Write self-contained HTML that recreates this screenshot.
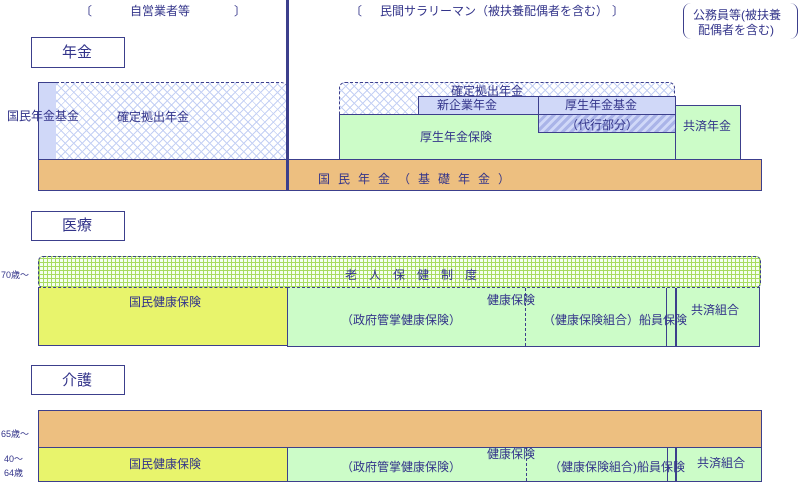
<!DOCTYPE html>
<html><head><meta charset="utf-8"><style>
body{margin:0;width:800px;height:485px;background:#fff;position:relative;overflow:hidden;font-family:"Liberation Sans","Noto Sans CJK JP",sans-serif;color:#33348a;font-size:12px}
div{position:absolute;box-sizing:border-box}
.t{white-space:nowrap;line-height:14px}
.bx{border:1.5px solid #3c3f8c}
.or{background:#edbf80}
.gr{background:#ccfcc8}
.ye{background:#e8f46c}
.bl{background:#d0d8f8}
.hx{background-color:#fff;background-image:repeating-linear-gradient(45deg,#c4d0f4 0 1px,transparent 1px 6px),repeating-linear-gradient(-45deg,#c4d0f4 0 1px,transparent 1px 6px)}
.hd{background:repeating-linear-gradient(-45deg,#aab4e8 0 3px,#d0d8f8 3px 6px)}
.gg{background-color:#f4fff0;background-image:repeating-linear-gradient(0deg,#a8dc60 0 1px,transparent 1px 4px),repeating-linear-gradient(90deg,#a8dc60 0 1px,transparent 1px 4px)}
</style></head><body>
<div class="t" style="left:80px;top:4px">〔</div>
<div class="t" style="left:130px;top:4px">自営業者等</div>
<div class="t" style="left:234px;top:4px">〕</div>
<div class="t" style="left:350px;top:4px">〔</div>
<div class="t" style="left:380px;top:4px">民間サラリーマン（被扶養配偶者を含む）</div>
<div class="t" style="left:612px;top:4px">〕</div>
<div style="left:683px;top:3px;width:115px;height:36px;border-left:1.5px solid #3c3f8c;border-right:1.5px solid #3c3f8c;border-radius:8px"></div>
<div class="t" style="left:693px;top:8px">公務員等(被扶養</div>
<div class="t" style="left:698px;top:23px">配偶者を含む)</div>

<div class="bx" style="left:31px;top:37px;width:94px;height:31px"></div>
<div class="t" style="left:62px;top:45px;font-size:15px;line-height:16px">年金</div>

<div class="bx bl" style="left:38px;top:82px;width:19px;height:78px"></div>
<div class="hx" style="left:56px;top:82px;width:231px;height:78px;border-top:1.5px dashed #3c3f8c;border-radius:0 6px 0 0"></div>
<div class="t" style="left:7px;top:109px">国民年金基金</div>
<div class="t" style="left:117px;top:110px">確定拠出年金</div>

<div class="hx" style="left:339px;top:82px;width:336px;height:33px;border:1.5px dashed #3c3f8c;border-bottom:none;border-radius:6px 6px 0 0"></div>
<div class="t" style="left:451px;top:84px">確定拠出年金</div>
<div class="bx bl" style="left:418px;top:96px;width:121px;height:19px"></div>
<div class="t" style="left:437px;top:98px">新企業年金</div>
<div class="bx bl" style="left:538px;top:96px;width:138px;height:19px"></div>
<div class="t" style="left:565px;top:98px">厚生年金基金</div>
<div class="bx gr" style="left:339px;top:114px;width:337px;height:46px"></div>
<div class="bx hd" style="left:538px;top:114px;width:138px;height:19px"></div>
<div class="t" style="left:566px;top:118px">（代行部分）</div>
<div class="t" style="left:420px;top:130px">厚生年金保険</div>
<div class="bx gr" style="left:675px;top:105px;width:66px;height:55px"></div>
<div class="t" style="left:683px;top:119px">共済年金</div>

<div class="bx or" style="left:38px;top:159px;width:724px;height:32px"></div>
<div class="t" style="left:318px;top:172px;letter-spacing:8px">国民年金（基礎年金）</div>
<div style="left:286px;top:0;width:3px;height:191px;background:#3c3f8c"></div>

<div class="bx" style="left:31px;top:211px;width:94px;height:30px"></div>
<div class="t" style="left:62px;top:218px;font-size:15px;line-height:16px">医療</div>

<div class="gg" style="left:38px;top:256px;width:723px;height:32px;border:1.5px dashed #3c3f8c;border-radius:5px"></div>
<div class="t" style="left:1px;top:268px;font-size:9px">70歳〜</div>
<div class="t" style="left:345px;top:268px;letter-spacing:12px">老人保健制度</div>
<div class="bx ye" style="left:38px;top:287px;width:250px;height:59px;border-top:1px dashed #3c3f8c"></div>
<div class="bx gr" style="left:287px;top:287px;width:473px;height:60px;border-top:1px dashed #3c3f8c"></div>
<div style="left:525px;top:288px;height:58px;border-left:1px dashed #3c3f8c"></div>
<div style="left:666px;top:288px;width:1px;height:58px;background:#3c3f8c"></div>
<div style="left:675px;top:288px;width:2px;height:58px;background:#3c3f8c"></div>
<div class="t" style="left:129px;top:295px">国民健康保険</div>
<div class="t" style="left:487px;top:293px">健康保険</div>
<div class="t" style="left:341px;top:313px">（政府管掌健康保険）</div>
<div class="t" style="left:543px;top:313px">（健康保険組合）船員保険</div>
<div class="t" style="left:691px;top:303px">共済組合</div>

<div class="bx" style="left:31px;top:365px;width:94px;height:30px"></div>
<div class="t" style="left:62px;top:373px;font-size:15px;line-height:16px">介護</div>

<div class="bx or" style="left:38px;top:410px;width:724px;height:38px"></div>
<div class="t" style="left:1px;top:427px;font-size:9px">65歳〜</div>
<div class="t" style="left:4px;top:452px;font-size:9px">40〜</div>
<div class="t" style="left:4px;top:466px;font-size:9px">64歳</div>
<div class="bx ye" style="left:38px;top:447px;width:250px;height:35px"></div>
<div class="bx gr" style="left:287px;top:447px;width:475px;height:35px"></div>
<div style="left:526px;top:448px;height:33px;border-left:1px dashed #3c3f8c"></div>
<div style="left:667px;top:448px;width:1px;height:33px;background:#3c3f8c"></div>
<div style="left:675px;top:448px;width:2px;height:33px;background:#3c3f8c"></div>
<div class="t" style="left:129px;top:457px">国民健康保険</div>
<div class="t" style="left:487px;top:447px">健康保険</div>
<div class="t" style="left:341px;top:460px">（政府管掌健康保険）</div>
<div class="t" style="left:549px;top:460px">（健康保険組合)船員保険</div>
<div class="t" style="left:697px;top:456px">共済組合</div>
</body></html>
